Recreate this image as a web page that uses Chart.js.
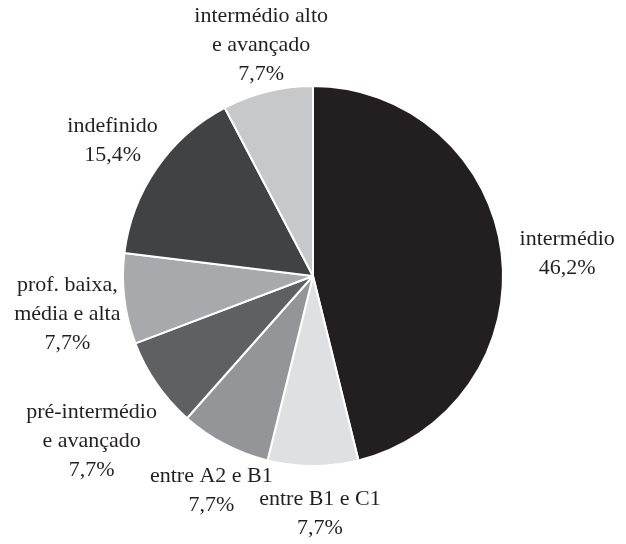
<!DOCTYPE html>
<html>
<head>
<meta charset="utf-8">
<script src="https://cdn.jsdelivr.net/npm/chart.js@4.4.1/dist/chart.umd.min.js"></script>
<style>
  html, body { margin: 0; padding: 0; background: #ffffff; }
  #wrap { width: 626px; height: 544px; position: relative; }
</style>
</head>
<body>
<div id="wrap"><canvas id="pie"></canvas></div>
<script>
/* ---- data ---- */
const categories = [
    ['intermédio'],
    ['entre B1 e C1'],
    ['entre A2 e B1'],
    ['pré-intermédio', 'e avançado'],
    ['prof. baixa,', 'média e alta'],
    ['indefinido'],
    ['intermédio alto', 'e avançado']
];
const shares = [46.2, 7.7, 7.7, 7.7, 7.7, 15.4, 7.7];
const sliceColors = ['#231f20', '#dfe0e1', '#939598', '#5f6062', '#a7a9ac', '#414244', '#c7c8ca'];

const FONT = "22px 'Liberation Serif', 'DejaVu Serif', serif";
const LINE_H = 29;

// outside labels: name lines + percentage, centred on a box
// pushed out along the slice's mid angle until it clears the pie.
// the label ring sits a little right/below the pie centre, as in the original
const outsideLabels = {
    id: 'outsideLabels',
    afterDraw(chart) {
        const ctx = chart.ctx;
        const meta = chart.getDatasetMeta(0);
        ctx.save();
        ctx.font = FONT;
        ctx.fillStyle = '#231f20';
        ctx.textAlign = 'center';
        ctx.textBaseline = 'middle';
        meta.data.forEach((arc, i) => {
            const lines = categories[i].concat([shares[i].toFixed(1).replace('.', ',') + '%']);
            const w = Math.max(...lines.map(l => ctx.measureText(l).width));
            const h = lines.length * LINE_H;
            const mid = (arc.startAngle + arc.endAngle) / 2;
            const c = Math.cos(mid), s = Math.sin(mid);
            const toEdge = Math.min(
                Math.abs(c) > 1e-6 ? (w / 2) / Math.abs(c) : Infinity,
                Math.abs(s) > 1e-6 ? (h / 2) / Math.abs(s) : Infinity
            );
            const d = arc.outerRadius + 11 + toEdge;
            const cx = arc.x + 7 + c * d;
            const cy = arc.y + 8 + s * d;
            lines.forEach((l, k) => {
                ctx.fillText(l, cx, cy - h / 2 + LINE_H * (k + 0.5));
            });
        });
        ctx.restore();
    }
};

new Chart(document.getElementById('pie'), {
    type: 'pie',
    data: {
        labels: categories.map(c => c.join(' ')),
        datasets: [{
            data: shares,
            backgroundColor: sliceColors,
            borderColor: '#ffffff',
            borderWidth: 2
        }]
    },
    options: {
        responsive: true,
        maintainAspectRatio: false,
        animation: false,
        layout: { padding: { top: 85, bottom: 77, left: 0, right: 0 } },
        plugins: {
            legend: { display: false },
            tooltip: { enabled: false }
        }
    },
    plugins: [outsideLabels]
});
</script>
</body>
</html>
